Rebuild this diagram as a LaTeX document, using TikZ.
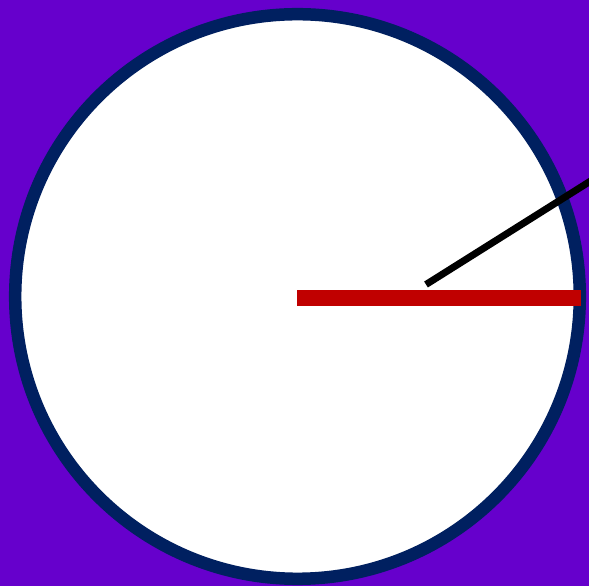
\documentclass[tikz,border=0pt]{standalone}
\definecolor{bgpurple}{HTML}{6600CC}
\definecolor{rimnavy}{HTML}{002060}
\definecolor{handred}{HTML}{C00000}
\begin{document}
\begin{tikzpicture}[x=1pt,y=1pt,
  rim/.style={draw=rimnavy,fill=white,line width=12.5pt},
  redhand/.style={draw=handred,line width=15.7pt,line cap=butt},
  blackhand/.style={draw=black,line width=7pt,line cap=butt}]
\useasboundingbox (0,0) rectangle (589,586);
\clip (0,0) rectangle (589,586);
\fill[bgpurple] (0,0) rectangle (589,586);
\coordinate (c) at (297.5,289.5);
\draw[rim] (c) circle[radius=282.3];
\coordinate (redend) at (581,288);
\coordinate (redstart) at (297.3,288);
\draw[redhand] (redstart) -- (redend);
\coordinate (bstart) at (426,301.5);
\coordinate (bend) at (600,410.9);
\draw[blackhand] (bstart) -- (bend);
\end{tikzpicture}
\end{document}
